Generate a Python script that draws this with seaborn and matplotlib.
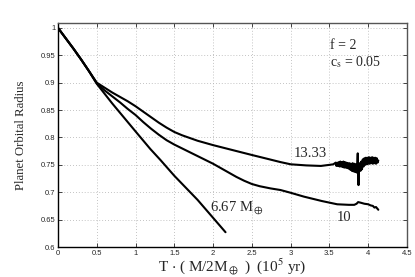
import pandas as pd
import seaborn as sns
import matplotlib.pyplot as plt

# planet orbital radius vs scaled time, three planet masses
t_667 = [0, 0.1, 0.2, 0.3, 0.4, 0.5, 0.6, 0.7, 0.8, 0.9, 1.0, 1.19, 1.32, 1.5, 1.8, 2.16]
r_667 = [1.0, 0.981, 0.962, 0.942, 0.921, 0.898, 0.880, 0.862, 0.845, 0.828, 0.811, 0.779, 0.759, 0.730, 0.686, 0.627]

t_10 = [0, 0.1, 0.2, 0.3, 0.4, 0.5, 0.6, 0.7, 0.8, 0.9, 1.0, 1.1, 1.2, 1.3, 1.4, 1.5, 1.6, 1.7,
        1.8, 1.9, 2.0, 2.1, 2.2, 2.3, 2.4, 2.5, 2.6, 2.74, 2.87, 3.0, 3.17, 3.4, 3.6, 3.75,
        3.82, 3.85, 3.87, 3.9, 3.95, 4.0, 4.03, 4.06, 4.08, 4.1, 4.13]
r_10 = [1.0, 0.981, 0.962, 0.942, 0.921, 0.899, 0.886, 0.875, 0.864, 0.852, 0.841, 0.828, 0.816, 0.805, 0.795, 0.787, 0.780, 0.773,
        0.766, 0.759, 0.752, 0.744, 0.736, 0.728, 0.721, 0.715, 0.711, 0.707, 0.704, 0.699, 0.692, 0.684, 0.678, 0.677,
        0.677, 0.679, 0.682, 0.681, 0.679, 0.678, 0.676, 0.675, 0.672, 0.673, 0.668]

t_1333 = [0, 0.1, 0.2, 0.3, 0.4, 0.5, 0.6, 0.7, 0.8, 0.9, 1.0, 1.1, 1.2, 1.3, 1.4, 1.5, 1.6, 1.7, 1.8,
          2.0, 2.25, 2.5, 2.7, 2.87, 3.0, 3.2, 3.39, 3.5, 3.55,
          3.58, 3.59, 3.60, 3.61, 3.62, 3.63, 3.64, 3.65, 3.66, 3.67, 3.68, 3.69, 3.70, 3.71,
          3.72, 3.73, 3.74, 3.75, 3.76, 3.77, 3.78, 3.79, 3.80, 3.81, 3.82, 3.83, 3.84, 3.85,
          3.86, 3.865, 3.87, 3.875, 3.88, 3.89, 3.90, 3.91, 3.92, 3.93, 3.94, 3.95, 3.96, 3.97,
          3.98, 3.99, 4.00, 4.01, 4.02, 4.03, 4.04, 4.05, 4.06, 4.07, 4.08, 4.09, 4.10, 4.11,
          4.12, 4.13]
r_1333 = [1.0, 0.981, 0.962, 0.942, 0.921, 0.900, 0.891, 0.882, 0.874, 0.866, 0.857, 0.847, 0.837, 0.827, 0.818, 0.810, 0.804, 0.799, 0.794,
          0.786, 0.777, 0.768, 0.761, 0.755, 0.751, 0.749, 0.748, 0.750, 0.751,
          0.754, 0.748, 0.754, 0.748, 0.755, 0.747, 0.756, 0.747, 0.755, 0.746, 0.756, 0.745, 0.755, 0.745,
          0.754, 0.744, 0.753, 0.743, 0.753, 0.741, 0.752, 0.739, 0.753, 0.738, 0.752, 0.737, 0.751, 0.736,
          0.755, 0.771, 0.735, 0.713, 0.742, 0.753, 0.739, 0.756, 0.742, 0.760, 0.747, 0.762, 0.750, 0.763,
          0.751, 0.763, 0.752, 0.764, 0.752, 0.763, 0.753, 0.764, 0.752, 0.763, 0.753, 0.763, 0.752, 0.762,
          0.754, 0.758]

x_ticks = [0, 0.5, 1, 1.5, 2, 2.5, 3, 3.5, 4, 4.5]
x_labels = ['0', '0.5', '1', '1.5', '2', '2.5', '3', '3.5', '4', '4.5']
y_ticks = [0.6, 0.65, 0.7, 0.75, 0.8, 0.85, 0.9, 0.95, 1.0]
y_labels = ['0.6', '0.65', '0.7', '0.75', '0.8', '0.85', '0.9', '0.95', '1']

df = pd.concat([
  pd.DataFrame({'t': t_667, 'r': r_667, 'mass': '6.67'}),
  pd.DataFrame({'t': t_10, 'r': r_10, 'mass': '10'}),
  pd.DataFrame({'t': t_1333, 'r': r_1333, 'mass': '13.33'}),
])

sns.set_style('ticks')
plt.rcParams['font.family'] = ['Liberation Serif', 'DejaVu Serif']
plt.rcParams['mathtext.fontset'] = 'stix'
plt.rcParams['xtick.direction'] = 'in'
plt.rcParams['ytick.direction'] = 'in'

fig = plt.figure(figsize=(4.15, 2.77), dpi=100)
ax = fig.add_axes([58/415, 30/277, 349/415, 224/277])

sns.lineplot(
  data=df, x='t', y='r', units='mass', estimator=None,
  color='black', linewidth=1.5, sort=False, ax=ax
)

ax.set_xlim(0, 4.5)
ax.set_ylim(0.6, 1.009)
ax.set_xticks(x_ticks)
ax.set_xticklabels(x_labels, family='Liberation Sans', fontsize=5.5)
ax.set_yticks(y_ticks)
ax.set_yticklabels(y_labels, family='Liberation Sans', fontsize=5.5)
ax.tick_params(top=True, right=True, length=3, width=0.6, pad=2)
ax.grid(True, linestyle=(0, (1, 2.5)), color='#b0b0b0', linewidth=0.6)
for side in ['left', 'bottom']:
  ax.spines[side].set_color('black')
  ax.spines[side].set_linewidth(1.0)
for side in ['top', 'right']:
  ax.spines[side].set_visible(True)
  ax.spines[side].set_color('#555555')
  ax.spines[side].set_linewidth(1.0)

ax.set_xlabel(r'T $\cdot$ ( M/2M$_\oplus$ )  (10$^5$ yr)', fontsize=11)
ax.set_ylabel('Planet Orbital Radius', fontsize=9.2)
ax.xaxis.set_label_coords(0.5, -0.045)
ax.yaxis.set_label_coords(-0.088, 0.5)

ax.text(3.04, 0.770, '13.33', fontsize=10.5, ha='left', va='center')
ax.text(3.59, 0.653, '10', fontsize=10.5, ha='left', va='center')
ax.text(1.96, 0.671, r'6.67 M$_\oplus$', fontsize=10.5, ha='left', va='center')
ax.text(3.51, 0.968, 'f = 2', fontsize=10, ha='left', va='center')
ax.text(3.51, 0.938, r'c$_\mathrm{s}$ = 0.05', fontsize=10, ha='left', va='center')

plt.savefig('out.png', dpi=100)
plt.close()
